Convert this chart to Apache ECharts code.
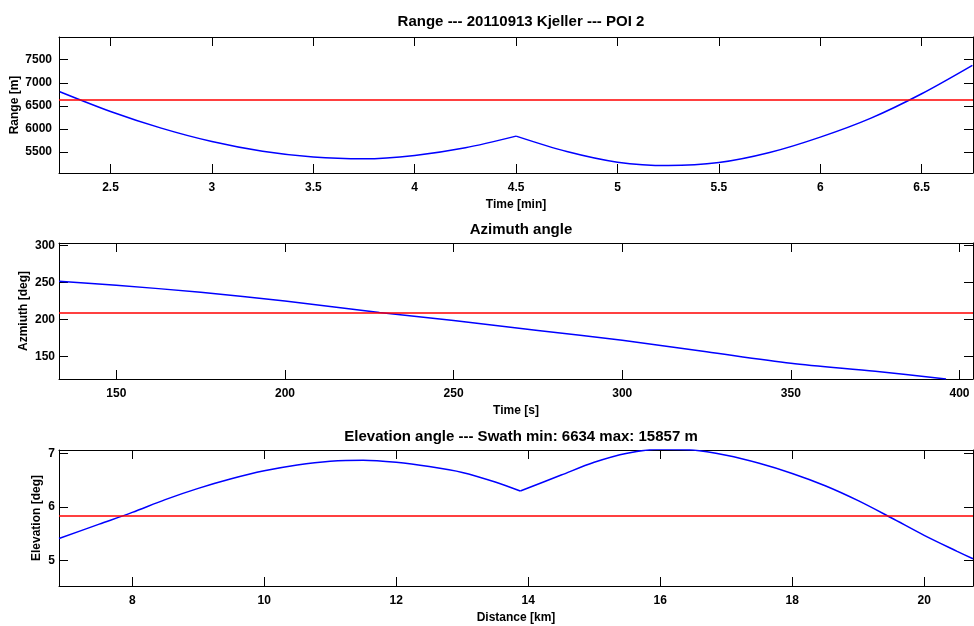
<!DOCTYPE html>
<html>
<head>
<meta charset="utf-8">
<script src="https://cdn.jsdelivr.net/npm/echarts@6/dist/echarts.min.js"></script>
<style>
  html, body { margin: 0; padding: 0; background: #fff; }
  #main { width: 974px; height: 626px; }
</style>
</head>
<body>
<div id="main"></div>
<script>
// range vs time, two passes split at 4.5 min
var rangeTimeA = [2.25, 2.5, 2.75, 3, 3.25, 3.5, 3.75, 4, 4.25, 4.5];
var rangeValA = [6807, 6380, 6020, 5730, 5520, 5395, 5357, 5430, 5595, 5847];
var rangeTimeB = [4.5, 4.75, 5, 5.25, 5.5, 5.75, 6, 6.25, 6.5, 6.75];
var rangeValB = [5847, 5513, 5283, 5210, 5275, 5492, 5825, 6236, 6763, 7377];
var rangeRef = 6634;
var rangeXTicks = [2.5, 3, 3.5, 4, 4.5, 5, 5.5, 6, 6.5];
var rangeYTicks = [5500, 6000, 6500, 7000, 7500];

// azimuth vs time
var aziTime = [133, 150, 175, 200, 228, 250, 275, 300, 325, 350, 375, 396];
var aziVal = [251.5, 246, 236.5, 224.8, 209.3, 198.3, 185, 171.7, 156.2, 140.7, 129.8, 119.5];
var aziRef = 209.3;
var aziXTicks = [150, 200, 250, 300, 350, 400];
var aziYTicks = [150, 200, 250, 300];

// elevation vs distance
var elevDistA = [6.89, 7.5, 8, 8.5, 9, 9.5, 10, 10.5, 11, 11.5, 12, 12.5, 13, 13.5, 13.88];
var elevValA = [5.41, 5.68, 5.9, 6.14, 6.35, 6.53, 6.68, 6.79, 6.86, 6.88, 6.84, 6.76, 6.65, 6.47, 6.30];
var elevDistB = [13.88, 14.5, 15, 15.5, 16, 16.5, 17, 17.5, 18, 18.5, 19, 19.5, 20, 20.5, 20.74];
var elevValB = [6.30, 6.60, 6.84, 7.01, 7.085, 7.07, 6.97, 6.82, 6.63, 6.40, 6.12, 5.80, 5.47, 5.17, 5.03];
var elevRef = 5.825;
var elevXTicks = [8, 10, 12, 14, 16, 18, 20];
var elevYTicks = [5, 6, 7];

var FONT = 'Liberation Sans';
var chart = echarts.init(document.getElementById('main'));

function pairs(xs, ys) {
  return xs.map(function (x, i) { return [x, ys[i]]; });
}

function txt(size) {
  return { color: '#000', fontFamily: FONT, fontWeight: 'bold', fontSize: size };
}

function axis(gi, pos, min, max, ticks, labels, margin, name, gap) {
  var a = {
    type: 'value', gridIndex: gi, position: pos, min: min, max: max,
    axisLine: { show: true, onZero: false, lineStyle: { color: '#000', width: 1 } },
    axisTick: { show: true, inside: true, length: 9, customValues: ticks, lineStyle: { color: '#000', width: 1 } },
    axisLabel: { show: labels, customValues: ticks, margin: margin, color: '#000', fontFamily: FONT, fontWeight: 'bold', fontSize: 12,
      formatter: function (v) { return String(v); } },
    splitLine: { show: false }
  };
  if (name) {
    a.name = name;
    a.nameLocation = 'middle';
    a.nameGap = gap;
    a.nameMoveOverlap = false;
    a.nameTextStyle = txt(12);
  }
  return a;
}

function curve(gi, data, ref) {
  var s = {
    type: 'line', xAxisIndex: gi * 2, yAxisIndex: gi * 2, data: data,
    showSymbol: false, smooth: 0.3, clip: true,
    lineStyle: { color: '#0000ff', width: 1.5 }
  };
  if (ref !== undefined) {
    s.markLine = {
      silent: true, symbol: ['none', 'none'], label: { show: false },
      lineStyle: { color: '#ff0000', width: 1.5, type: 'solid' },
      data: [{ yAxis: ref }]
    };
  }
  return s;
}

var option = {
  animation: false,
  backgroundColor: '#fff',
  title: [
    { text: 'Range --- 20110913 Kjeller --- POI 2', left: 516, top: 9, textAlign: 'center', textStyle: txt(15) },
    { text: 'Azimuth angle', left: 516, top: 217, textAlign: 'center', textStyle: txt(15) },
    { text: 'Elevation angle --- Swath min: 6634 max: 15857 m', left: 516, top: 424, textAlign: 'center', textStyle: txt(15) }
  ],
  grid: [
    { left: 59, right: 1, top: 37, height: 136, outerBoundsMode: 'none' },
    { left: 59, right: 1, top: 243, height: 136, outerBoundsMode: 'none' },
    { left: 59, right: 1, top: 450, height: 136, outerBoundsMode: 'none' }
  ],
  xAxis: [
    axis(0, 'bottom', 2.246, 6.753, rangeXTicks, true, 9, 'Time [min]', 26),
    axis(0, 'top', 2.246, 6.753, rangeXTicks, false, 0),
    axis(1, 'bottom', 133, 404, aziXTicks, true, 9, 'Time [s]', 26),
    axis(1, 'top', 133, 404, aziXTicks, false, 0),
    axis(2, 'bottom', 6.89, 20.74, elevXTicks, true, 9, 'Distance [km]', 26),
    axis(2, 'top', 6.89, 20.74, elevXTicks, false, 0)
  ],
  yAxis: [
    axis(0, 'left', 5050, 7990, rangeYTicks, true, 7, 'Range [m]', 38),
    axis(0, 'right', 5050, 7990, rangeYTicks, false, 0),
    axis(1, 'left', 119.5, 303, aziYTicks, true, 4, 'Azmiuth [deg]', 29),
    axis(1, 'right', 119.5, 303, aziYTicks, false, 0),
    axis(2, 'left', 4.52, 7.07, elevYTicks, true, 4, 'Elevation [deg]', 16),
    axis(2, 'right', 4.52, 7.07, elevYTicks, false, 0)
  ],
  series: [
    curve(0, pairs(rangeTimeA, rangeValA), rangeRef),
    curve(0, pairs(rangeTimeB, rangeValB)),
    curve(1, pairs(aziTime, aziVal), aziRef),
    curve(2, pairs(elevDistA, elevValA), elevRef),
    curve(2, pairs(elevDistB, elevValB))
  ]
};
// series on grid i use axis pair 2*i (bottom/left); the others are mirrors
chart.setOption(option);
</script>
</body>
</html>
